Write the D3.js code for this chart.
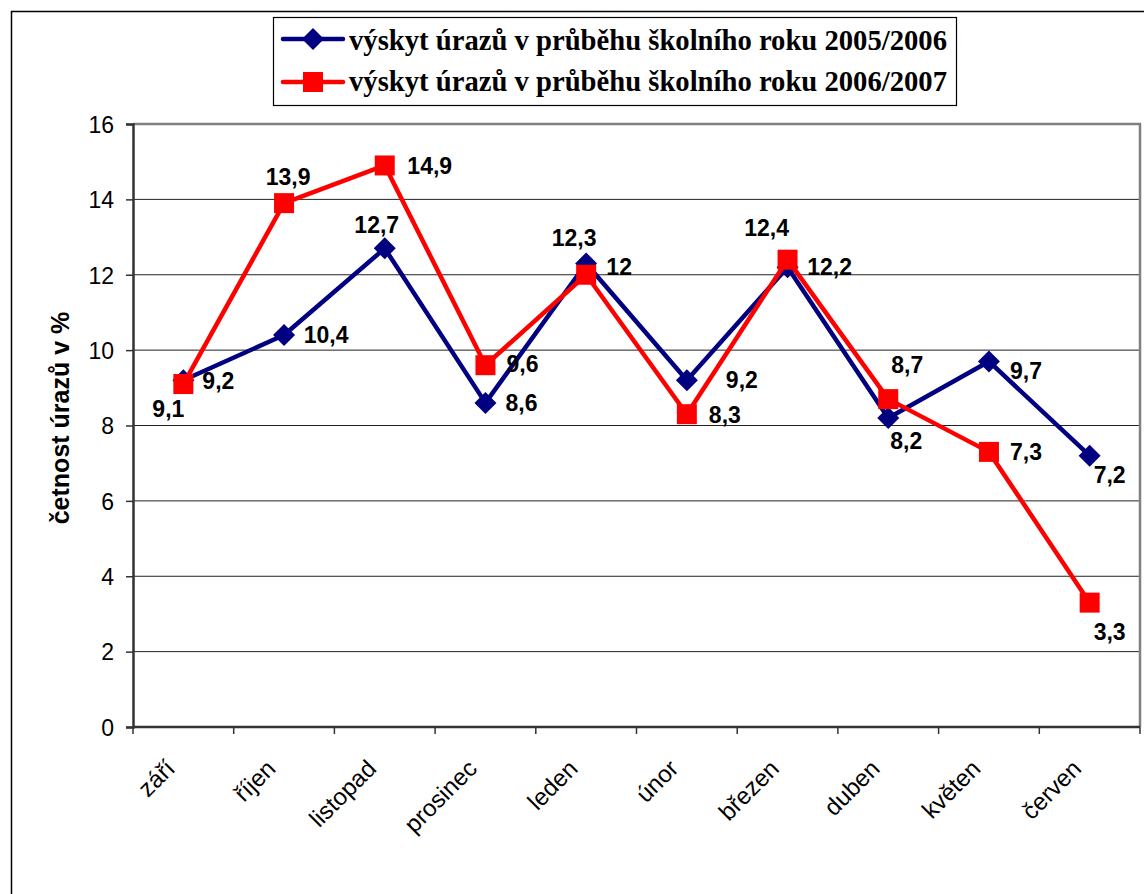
<!DOCTYPE html>
<html>
<head>
<meta charset="utf-8">
<script src="https://cdn.jsdelivr.net/npm/d3@7"></script>
<style>
  html, body { margin: 0; padding: 0; background: #fff; }
  svg { display: block; }
</style>
</head>
<body>
<svg id="chart" width="1144" height="894"></svg>
<script>
// Školní úrazy podle měsíců (v %)
const months = ["září", "říjen", "listopad", "prosinec", "leden", "únor", "březen", "duben", "květen", "červen"];
const series2005 = [9.2, 10.4, 12.7, 8.6, 12.3, 9.2, 12.2, 8.2, 9.7, 7.2];
const series2006 = [9.1, 13.9, 14.9, 9.6, 12, 8.3, 12.4, 8.7, 7.3, 3.3];
const seriesNames = [
  "výskyt úrazů v průběhu školního roku 2005/2006",
  "výskyt úrazů v průběhu školního roku 2006/2007"
];
const yTicks = [0, 2, 4, 6, 8, 10, 12, 14, 16];
const yTitle = "četnost úrazů v %";

// label placement offsets (label centre relative to its point), in px
const labelShift2005 = [[35, 1], [42, 0], [-8, -23], [36, 0], [-12, -25], [55, 0], [42, 0], [18, 23], [37, 10], [20, 19]];
const labelShift2006 = [[-15, 25], [4, -26], [45, 1], [37, -1], [33, -8], [38, 1], [-21, -32], [19, -34], [37, 0], [20, 29]];

const svg = d3.select("#chart");
const plot = { left: 133, right: 1140, top: 124, bottom: 727 };

const x = d3.scaleBand().domain(months).range([plot.left, plot.right]).padding(0);
const y = d3.scaleLinear().domain([0, 16]).range([plot.bottom, plot.top]);
const cx = m => x(m) + x.bandwidth() / 2;

const sans = "Arial, 'Liberation Sans', sans-serif";
const serif = "'Times New Roman', 'Liberation Serif', serif";
const fmt = v => String(v).replace(".", ",");

// outer frame
svg.append("rect")
  .attr("x", 11.5).attr("y", 11.5)
  .attr("width", 1200).attr("height", 1000)
  .attr("fill", "#fff").attr("stroke", "#000").attr("stroke-width", 1.5);

// gridlines
svg.append("g")
  .selectAll("line")
  .data(yTicks.filter(t => t > 0 && t < 16))
  .join("line")
  .attr("x1", plot.left).attr("x2", plot.right)
  .attr("y1", d => y(d)).attr("y2", d => y(d))
  .attr("stroke", "#222").attr("stroke-width", 1);

// plot area frame (top and right)
svg.append("path")
  .attr("d", `M${plot.left},${y(16)}H${plot.right}V${plot.bottom}`)
  .attr("fill", "none").attr("stroke", "#808080").attr("stroke-width", 2.5);

// y axis
const yAxis = svg.append("g")
  .attr("transform", `translate(${plot.left},0)`)
  .call(d3.axisLeft(y).tickValues(yTicks).tickSize(7).tickPadding(12).tickFormat(d3.format("d")));
yAxis.select(".domain").attr("stroke", "#333").attr("stroke-width", 2.5);
yAxis.selectAll(".tick line").attr("stroke", "#333").attr("stroke-width", 1.5);
yAxis.selectAll(".tick text")
  .attr("font-family", sans).attr("font-size", 23).attr("fill", "#000")
  .attr("dy", "0.36em");

// x axis with boundary ticks
const xAxisG = svg.append("g");
xAxisG.append("line")
  .attr("x1", plot.left).attr("x2", plot.right)
  .attr("y1", plot.bottom).attr("y2", plot.bottom)
  .attr("stroke", "#333").attr("stroke-width", 2.5);
const boundaries = months.map(m => x(m)).concat([plot.right]);
xAxisG.selectAll("line.tk")
  .data(boundaries)
  .join("line").attr("class", "tk")
  .attr("x1", d => d).attr("x2", d => d)
  .attr("y1", plot.bottom).attr("y2", plot.bottom + 7)
  .attr("stroke", "#333").attr("stroke-width", 1.5);
xAxisG.selectAll("text")
  .data(months)
  .join("text")
  .attr("transform", d => `translate(${cx(d) - 7},${plot.bottom + 43}) rotate(-45)`)
  .attr("text-anchor", "end")
  .attr("font-family", sans).attr("font-size", 24).attr("fill", "#000")
  .text(d => d);

// y axis title
svg.append("text")
  .attr("transform", `translate(69,418) rotate(-90)`)
  .attr("text-anchor", "middle")
  .attr("font-family", sans).attr("font-size", 25).attr("font-weight", "bold")
  .text(yTitle);

const line = d3.line().x((d, i) => cx(months[i])).y(d => y(d));

function drawSeries(values, color, marker, shifts) {
  const g = svg.append("g");
  g.append("path")
    .datum(values)
    .attr("d", line)
    .attr("fill", "none").attr("stroke", color).attr("stroke-width", 4.5)
    .attr("stroke-linejoin", "round");
  g.selectAll("path.mk")
    .data(values)
    .join("path").attr("class", "mk")
    .attr("transform", (d, i) => `translate(${cx(months[i])},${y(d)})`)
    .attr("d", marker)
    .attr("fill", color);
  g.selectAll("text")
    .data(values)
    .join("text")
    .attr("x", (d, i) => cx(months[i]) + shifts[i][0])
    .attr("y", (d, i) => y(d) + shifts[i][1] + 8)
    .attr("text-anchor", "middle")
    .attr("font-family", sans).attr("font-size", 23).attr("font-weight", "bold")
    .attr("fill", "#000")
    .text(d => fmt(d));
}

const diamond = "M0,-11L11,0L0,11L-11,0Z";
const square = "M-10,-10H10V10H-10Z";

drawSeries(series2005, "#000080", diamond, labelShift2005);
drawSeries(series2006, "#ff0000", square, labelShift2006);

// legend
const legend = svg.append("g");
legend.append("rect")
  .attr("x", 273.5).attr("y", 17.5).attr("width", 683).attr("height", 88)
  .attr("fill", "#fff").attr("stroke", "#000").attr("stroke-width", 1.2);
const legendItems = [
  { name: seriesNames[0], color: "#000080", marker: diamond, cy: 39, base: 50 },
  { name: seriesNames[1], color: "#ff0000", marker: square, cy: 82, base: 91 }
];
legendItems.forEach(it => {
  legend.append("line")
    .attr("x1", 283).attr("x2", 343).attr("y1", it.cy).attr("y2", it.cy)
    .attr("stroke", it.color).attr("stroke-width", 4.5).attr("stroke-linecap", "round");
  legend.append("path")
    .attr("transform", `translate(313,${it.cy})`)
    .attr("d", it.marker).attr("fill", it.color);
  legend.append("text")
    .attr("x", 349).attr("y", it.base)
    .attr("font-family", serif).attr("font-size", 29).attr("font-weight", "bold")
    .attr("textLength", 598).attr("lengthAdjust", "spacingAndGlyphs")
    .text(it.name);
});
</script>
</body>
</html>
